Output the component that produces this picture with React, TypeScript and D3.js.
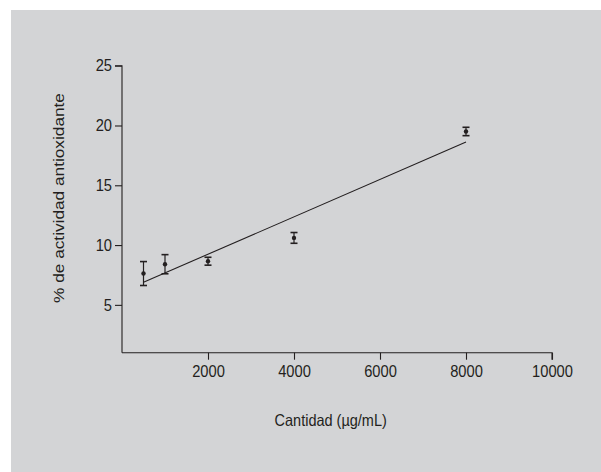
import React, { useEffect, useRef } from "react";
import * as d3 from "d3";

// concentration (µg/mL)
const cantidades = [500, 1000, 2000, 4000, 8000];
// mean antioxidant activity (%)
const actividad = [7.62, 8.4, 8.65, 10.6, 19.5];
// error (±)
const errores = [1.0, 0.8, 0.33, 0.45, 0.35];

const xTicks = [2000, 4000, 6000, 8000, 10000];
const yTicks = [5, 10, 15, 20, 25];

const App = () => {
  const svgRef = useRef<SVGSVGElement | null>(null);
  const width = 601;
  const height = 472;
  const ink = "#231f20";
  const font = "'Liberation Sans', Arial, sans-serif";
  // the original figure is a little taller than wide, text looks stretched
  const stretch = 1.1;

  useEffect(() => {
    const svg = d3.select(svgRef.current);
    svg.selectAll("*").remove();

    // panel background
    svg
      .append("rect")
      .attr("x", 11)
      .attr("y", 10)
      .attr("width", width - 11)
      .attr("height", height - 10)
      .attr("fill", "#d3d4d6");

    const xScale = d3.scaleLinear().domain([0, 10000]).range([122, 552]);
    const yScale = d3.scaleLinear().domain([1, 25]).range([352.7, 65.7]);

    // x axis
    const xAxis = d3
      .axisBottom(xScale)
      .tickValues(xTicks)
      .tickSize(7)
      .tickPadding(5)
      .tickFormat(d3.format("d"));
    const xg = svg
      .append("g")
      .attr("transform", `translate(0, ${yScale(1)})`)
      .call(xAxis);
    xg.select(".domain").attr("d", `M${xScale(0)},0H${xScale(10000)}V7`);

    // y axis
    const yAxis = d3
      .axisLeft(yScale)
      .tickValues(yTicks)
      .tickSize(7)
      .tickPadding(3);
    const yg = svg
      .append("g")
      .attr("transform", `translate(${xScale(0)}, 0)`)
      .call(yAxis);
    yg.select(".domain").attr("d", `M-7,${yScale(25)}H0V${yScale(1)}`);

    [xg, yg].forEach((g) => {
      g.selectAll("path, line").attr("stroke", ink).attr("stroke-width", 1.1);
      g.selectAll("text")
        .attr("fill", ink)
        .attr("transform", `scale(1, ${stretch})`)
        .style("font-family", font)
        .style("font-size", "14.7px");
    });

    // regression line fitted to the means
    const mx = d3.mean(cantidades) as number;
    const my = d3.mean(actividad) as number;
    const sxy = d3.sum(cantidades, (c, i) => (c - mx) * (actividad[i] - my));
    const sxx = d3.sum(cantidades, (c) => (c - mx) * (c - mx));
    const slope = sxy / sxx;
    const intercept = my - slope * mx;
    const xExtent = d3.extent(cantidades) as [number, number];

    svg
      .append("path")
      .datum(xExtent)
      .attr(
        "d",
        d3
          .line<number>()
          .x((d) => xScale(d))
          .y((d) => yScale(intercept + slope * d))
      )
      .attr("stroke", ink)
      .attr("stroke-width", 1.1)
      .attr("fill", "none");

    // error bars
    const bars = svg
      .selectAll(".err")
      .data(cantidades)
      .enter()
      .append("g")
      .attr("class", "err");

    bars
      .append("line")
      .attr("x1", (d) => xScale(d))
      .attr("x2", (d) => xScale(d))
      .attr("y1", (d, i) => yScale(actividad[i] + errores[i]))
      .attr("y2", (d, i) => yScale(actividad[i] - errores[i]))
      .attr("stroke", ink)
      .attr("stroke-width", 1.2);

    [1, -1].forEach((s) => {
      bars
        .append("line")
        .attr("x1", (d) => xScale(d) - 3.5)
        .attr("x2", (d) => xScale(d) + 3.5)
        .attr("y1", (d, i) => yScale(actividad[i] + s * errores[i]))
        .attr("y2", (d, i) => yScale(actividad[i] + s * errores[i]))
        .attr("stroke", ink)
        .attr("stroke-width", 1.6);
    });

    bars
      .append("circle")
      .attr("cx", (d) => xScale(d))
      .attr("cy", (d, i) => yScale(actividad[i]))
      .attr("r", 2.2)
      .attr("fill", ink);

    // axis titles
    svg
      .append("text")
      .attr("transform", `translate(330.7, 425.7) scale(1, 1.15)`)
      .attr("text-anchor", "middle")
      .attr("fill", ink)
      .style("font-family", font)
      .style("font-size", "14.5px")
      .text("Cantidad (µg/mL)");

    svg
      .append("text")
      .attr("transform", `translate(64, 198) rotate(-90) scale(1.15, 1)`)
      .attr("text-anchor", "middle")
      .attr("fill", ink)
      .style("font-family", font)
      .style("font-size", "15px")
      .text("% de actividad antioxidante");
  }, []);

  return (
    <svg
      ref={svgRef}
      width={width}
      height={height}
      style={{ position: "absolute", left: 0, top: 0, background: "#fff" }}
    />
  );
};

export default App;
